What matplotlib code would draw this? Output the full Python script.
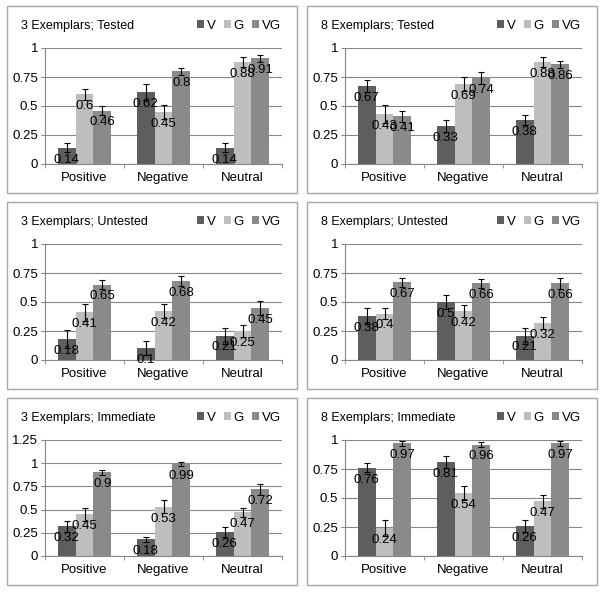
import matplotlib
matplotlib.use("Agg")
import matplotlib.pyplot as plt
import matplotlib.patches as patches
import numpy as np

plt.rcParams['font.family'] = ['Liberation Sans', 'DejaVu Sans']

categories = ["Positive", "Negative", "Neutral"]
series = ["V", "G", "VG"]

titles = ["3 Exemplars; Tested", "8 Exemplars; Tested",
          "3 Exemplars; Untested", "8 Exemplars; Untested",
          "3 Exemplars; Immediate", "8 Exemplars; Immediate"]

# values per panel: rows = V, G, VG ; columns = Positive, Negative, Neutral
tested3 = [[0.14, 0.62, 0.14], [0.60, 0.45, 0.88], [0.46, 0.80, 0.91]]
tested3_err = [[0.04, 0.07, 0.04], [0.05, 0.06, 0.04], [0.04, 0.03, 0.03]]
tested8 = [[0.67, 0.33, 0.38], [0.43, 0.69, 0.88], [0.41, 0.74, 0.86]]
tested8_err = [[0.05, 0.05, 0.04], [0.08, 0.06, 0.04], [0.05, 0.05, 0.03]]
untested3 = [[0.18, 0.10, 0.21], [0.41, 0.42, 0.25], [0.65, 0.68, 0.45]]
untested3_err = [[0.08, 0.06, 0.07], [0.07, 0.06, 0.05], [0.04, 0.04, 0.06]]
untested8 = [[0.38, 0.50, 0.21], [0.40, 0.42, 0.32], [0.67, 0.66, 0.66]]
untested8_err = [[0.07, 0.06, 0.07], [0.05, 0.05, 0.05], [0.04, 0.04, 0.05]]
immediate3 = [[0.32, 0.18, 0.26], [0.45, 0.53, 0.47], [0.90, 0.99, 0.72]]
immediate3_err = [[0.06, 0.03, 0.05], [0.07, 0.07, 0.05], [0.03, 0.02, 0.06]]
immediate8 = [[0.76, 0.81, 0.26], [0.24, 0.54, 0.47], [0.97, 0.96, 0.97]]
immediate8_err = [[0.04, 0.05, 0.05], [0.07, 0.06, 0.06], [0.02, 0.02, 0.02]]

panels = [(tested3, tested3_err), (tested8, tested8_err),
          (untested3, untested3_err), (untested8, untested8_err),
          (immediate3, immediate3_err), (immediate8, immediate8_err)]
ymaxes = [1, 1, 1, 1, 1.25, 1]

colors = ["#5e5e5e", "#bebebe", "#8a8a8a"]

W, H = 600, 592
fig = plt.figure(figsize=(6, 5.92), dpi=100)

x = np.arange(len(categories))
bw = 0.225

for i, ((vals, errs), title, ymax) in enumerate(zip(panels, titles, ymaxes)):
    col, row = i % 2, i // 2
    ox, oy = col * 300, row * 196

    # panel border
    fig.patches.append(patches.Rectangle(((7 + ox) / W, 1 - (193 + oy) / H),
                                         290 / W, 187 / H, transform=fig.transFigure,
                                         fill=False, edgecolor="#a6a6a6", lw=1))

    ax = fig.add_axes([(45 + ox) / W, 1 - (164 + oy) / H, 237 / W, 116 / H])
    for j, s in enumerate(series):
        pos = x + (j - 1) * bw
        ax.bar(pos, vals[j], bw, color=colors[j], label=s, zorder=2)
        ax.errorbar(pos, vals[j], yerr=errs[j], fmt="none", ecolor="black",
                    elinewidth=0.8, capsize=2.5, capthick=0.8, zorder=3)
        for px, v in zip(pos, vals[j]):
            ax.annotate(f"{v:g}", (px, v), xytext=(0, -8.5), textcoords="offset points",
                        ha="center", va="center", fontsize=9.5, zorder=4)

    ax.set_xlim(-0.5, 2.5)
    ax.set_ylim(0, ymax)
    ticks = np.arange(0, ymax + 0.01, 0.25)
    ax.set_yticks(ticks)
    ax.set_yticklabels([f"{t:g}" for t in ticks], fontsize=9.5)
    ax.set_xticks(x)
    ax.set_xticklabels(categories, fontsize=9.5)
    ax.set_xticks([-0.5, 0.5, 1.5, 2.5], minor=True)
    ax.tick_params(axis="x", which="major", length=0, pad=6)
    ax.tick_params(axis="x", which="minor", length=3, color="#868686")
    ax.tick_params(axis="y", length=3, color="#868686", pad=2)
    ax.yaxis.grid(True, color="#868686", lw=0.8, zorder=0)
    ax.set_axisbelow(True)
    for sp in ["top", "right"]:
        ax.spines[sp].set_visible(False)
    for sp in ["left", "bottom"]:
        ax.spines[sp].set_color("#868686")
        ax.spines[sp].set_linewidth(0.8)

    fig.text((21 + ox) / W, 1 - (26 + oy) / H, title, fontsize=9, va="center", ha="left")
    ax.legend(loc="center right", bbox_to_anchor=((281 + ox) / W, 1 - (26 + oy) / H),
              bbox_transform=fig.transFigure, ncol=3, frameon=False, fontsize=9.5,
              handlelength=0.55, handleheight=0.55, handletextpad=0.2,
              columnspacing=0.6, borderpad=0, borderaxespad=0)

fig.savefig("out.png", dpi=100)
